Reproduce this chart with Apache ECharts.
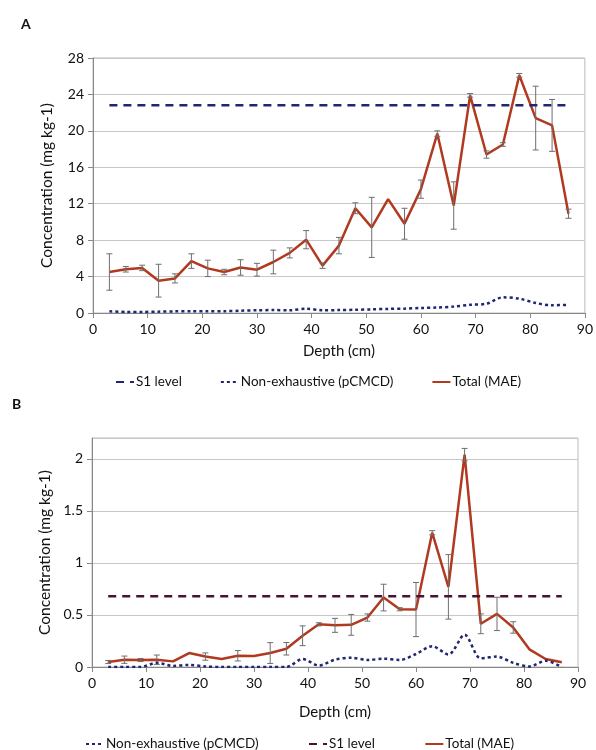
<!DOCTYPE html>
<html><head><meta charset="utf-8">
<script src="https://cdn.jsdelivr.net/npm/echarts@6/dist/echarts.min.js"></script>
<style>html,body{margin:0;padding:0;background:#fff}#c{width:596px;height:750px}</style>
</head><body><div id="c"></div>
<script>
const depth = [3,6,9,12,15,18,21,24,27,30,33,36,39,42,45,48,51,54,57,60,63,66,69,72,75,78,81,84,87];
const xTicks = [0,10,20,30,40,50,60,70,80,90];
// Panel A
const totalA = [4.5,4.8,4.95,3.55,3.8,5.7,4.9,4.5,5.0,4.75,5.6,6.6,8.05,5.2,7.4,11.5,9.4,12.5,9.8,13.6,19.7,11.8,23.9,17.4,18.5,26.1,21.4,20.6,10.9];
const errA   = [2.0,0.3,0.3,1.8,0.5,0.8,0.9,0.3,0.85,0.7,1.3,0.55,1.0,0.3,0.9,0.6,3.3,0,1.7,1.0,0.3,2.6,0.2,0.4,0.2,0.2,3.5,2.85,0.5];
const nonExA = [0.18,0.12,0.12,0.15,0.18,0.2,0.2,0.2,0.25,0.3,0.32,0.3,0.48,0.3,0.32,0.35,0.4,0.45,0.48,0.55,0.6,0.7,0.9,1.02,1.72,1.57,1.1,0.85,0.9];
const s1A = 22.8;
const yTicksA = [0,4,8,12,16,20,24,28];
// Panel B
const totalB = [0.048,0.07,0.067,0.07,0.054,0.134,0.10,0.077,0.108,0.105,0.134,0.175,0.30,0.41,0.40,0.405,0.475,0.667,0.555,0.552,1.29,0.77,2.04,0.415,0.51,0.38,0.17,0.077,0.045];
const errB   = [0.015,0.035,0.015,0.045,0,0,0.035,0,0.05,0,0.1,0.06,0.095,0.015,0.067,0.1,0.035,0.128,0.015,0.26,0.02,0.31,0.06,0.095,0.16,0.055,0,0,0];
const nonExB = [0,0,0,0.04,0.01,0.02,0.005,0,0,0,0,0,0.077,0.015,0.07,0.09,0.067,0.08,0.067,0.125,0.2,0.12,0.31,0.083,0.1,0.04,0.005,0.06,0];
const s1B = 0.68;
const yTicksB = [0,0.5,1,1.5,2];

const FONT = 'Lato, "Open Sans", sans-serif';
const RED = '#b0391f', NAVY = '#1f2672', MAROON = '#4a1232', ERR = '#6e6e6e';

function pairs(xs, ys){ return xs.map((x,i)=>[x, ys[i]]); }
function errData(xs, ys, es){ return xs.map((x,i)=>[x, ys[i]-es[i], ys[i]+es[i]]).filter((d,i)=>es[i]>0); }
function errRender(params, api){
  const x = api.value(0), lo = api.value(1), hi = api.value(2);
  const p1 = api.coord([x, hi]), p2 = api.coord([x, lo]);
  const w = 3, st = {stroke: ERR, lineWidth: 1};
  return {type:'group', children:[
    {type:'line', shape:{x1:p1[0],y1:p1[1],x2:p2[0],y2:p2[1]}, style:st},
    {type:'line', shape:{x1:p1[0]-w,y1:p1[1],x2:p1[0]+w,y2:p1[1]}, style:st},
    {type:'line', shape:{x1:p2[0]-w,y1:p2[1],x2:p2[0]+w,y2:p2[1]}, style:st}
  ]};
}
const first = depth[0], last = depth[depth.length-1];

function xAxis(idx){
  return {type:'value', gridIndex:idx, min:xTicks[0], max:xTicks[xTicks.length-1], interval:10,
    name:'Depth (cm)', nameLocation:'middle', nameGap: idx===0?31:38,
    nameTextStyle:{fontFamily:FONT, fontSize:15, color:'#111'},
    axisLine:{lineStyle:{color:'#888'}}, axisTick:{show:true, length:5, lineStyle:{color:'#888'}},
    axisLabel:{fontFamily:FONT, fontSize:14, color:'#111', margin:9},
    splitLine:{show:false}};
}
function yAxis(idx, max, interval){
  return {type:'value', gridIndex:idx, min:0, max:max, interval:interval,
    name:'Concentration (mg kg-1)', nameLocation:'middle', nameGap: 38,
    nameTextStyle:{fontFamily:FONT, fontSize:15.5, color:'#111'},
    axisLine:{show:true, lineStyle:{color:'#888'}}, axisTick:{show:true, length:5, lineStyle:{color:'#888'}},
    axisLabel:{fontFamily:FONT, fontSize:14, color:'#111', margin:9, showMaxLabel: idx===0},
    splitLine:{show:true, lineStyle:{color:'#c8c8c8', width:1}}};
}
const legendCommon = {itemWidth:18, itemHeight:10, itemGap:38, itemStyle:{opacity:0},
  textStyle:{fontFamily:FONT, fontSize:13.5, color:'#111', padding:[0,0,0,-3]}};

const option = {
  backgroundColor:'#fff',
  animation:false,
  title:[
    {text:'A', left:16, top:12, textStyle:{fontFamily:FONT, fontSize:14, fontWeight:'bold', color:'#111'}},
    {text:'B', left:7, top:392, textStyle:{fontFamily:FONT, fontSize:14, fontWeight:'bold', color:'#111'}}
  ],
  grid:[
    {left:93, top:58, right:9, height:255, show:true, borderColor:'#bbb', borderWidth:1},
    {left:92, top:438, right:18, height:229, show:true, borderColor:'#bbb', borderWidth:1}
  ],
  legend:[
    Object.assign({top:370, left:110, data:['S1 level','Non-exhaustive (pCMCD)','Total (MAE)']}, legendCommon),
    Object.assign({top:732, left:80, itemGap:46, data:['Non-exhaustive (pCMCD) ','S1 level ','Total (MAE) ']}, legendCommon, {itemGap:46})
  ],
  xAxis:[xAxis(0), xAxis(1)],
  yAxis:[yAxis(0, 28, 4), yAxis(1, 2.2, 0.5)],
  series:[
    {name:'S1 level', type:'line', xAxisIndex:0, yAxisIndex:0, symbol:'none', data:[[first,s1A],[last,s1A]],
      lineStyle:{color:NAVY, width:2.5, type:[8,6]}, itemStyle:{color:NAVY}},
    {name:'Non-exhaustive (pCMCD)', type:'line', xAxisIndex:0, yAxisIndex:0, symbol:'none', smooth:0.3, data:pairs(depth,nonExA),
      lineStyle:{color:NAVY, width:2.5, type:[3,3]}, itemStyle:{color:NAVY}},
    {name:'errA', type:'custom', xAxisIndex:0, yAxisIndex:0, renderItem:errRender, encode:{x:0,y:[1,2]}, data:errData(depth,totalA,errA), z:3},
    {name:'Total (MAE)', type:'line', xAxisIndex:0, yAxisIndex:0, symbol:'none', data:pairs(depth,totalA),
      lineStyle:{color:RED, width:2.5}, itemStyle:{color:RED}, z:2},

    {name:'Non-exhaustive (pCMCD) ', type:'line', xAxisIndex:1, yAxisIndex:1, symbol:'none', smooth:0.3, data:pairs(depth,nonExB),
      lineStyle:{color:NAVY, width:2.5, type:[3,3]}, itemStyle:{color:NAVY}},
    {name:'S1 level ', type:'line', xAxisIndex:1, yAxisIndex:1, symbol:'none', data:[[first,s1B],[last,s1B]],
      lineStyle:{color:MAROON, width:2.5, type:[8,6]}, itemStyle:{color:MAROON}},
    {name:'errB', type:'custom', xAxisIndex:1, yAxisIndex:1, renderItem:errRender, encode:{x:0,y:[1,2]}, data:errData(depth,totalB,errB), z:3},
    {name:'Total (MAE) ', type:'line', xAxisIndex:1, yAxisIndex:1, symbol:'none', data:pairs(depth,totalB),
      lineStyle:{color:RED, width:2.5}, itemStyle:{color:RED}, z:2}
  ]
};
const chart = echarts.init(document.getElementById('c'), null, {renderer:'canvas'});
chart.setOption(option);
</script></body></html>
